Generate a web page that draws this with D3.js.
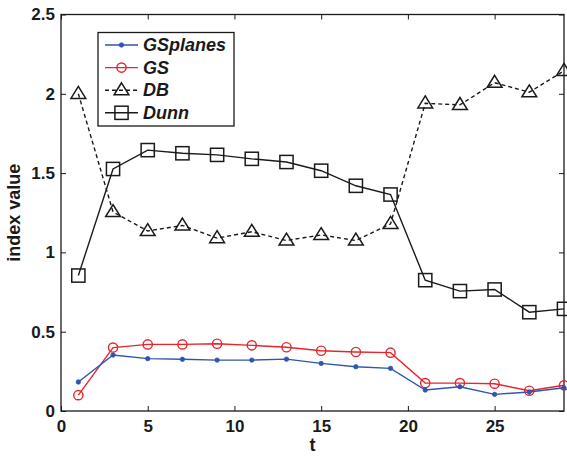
<!DOCTYPE html>
<html>
<head>
<meta charset="utf-8">
<script src="https://cdn.jsdelivr.net/npm/d3@7"></script>
<style>
  html, body { margin: 0; padding: 0; background: #fff; }
  svg { display: block; }
  text { font-family: "Liberation Sans", Arial, Helvetica, sans-serif; font-weight: bold; }
</style>
</head>
<body>
<svg id="chart" width="567" height="456"></svg>
<script>
// Sample positions along t
const tValues = [1, 3, 5, 7, 9, 11, 13, 15, 17, 19, 21, 23, 25, 27, 29];

// Index values per method
const gsplanes = [0.183, 0.353, 0.330, 0.326, 0.321, 0.321, 0.327, 0.300, 0.279, 0.269, 0.132, 0.153, 0.105, 0.120, 0.147];
const gs       = [0.100, 0.400, 0.420, 0.420, 0.424, 0.414, 0.402, 0.380, 0.372, 0.368, 0.176, 0.176, 0.172, 0.128, 0.162];
const db       = [2.000, 1.255, 1.135, 1.170, 1.090, 1.130, 1.075, 1.110, 1.075, 1.180, 1.940, 1.930, 2.070, 2.010, 2.145];
const dunn     = [0.854, 1.526, 1.645, 1.625, 1.615, 1.590, 1.570, 1.515, 1.420, 1.365, 0.825, 0.756, 0.766, 0.623, 0.644];

const xTicks = [0, 5, 10, 15, 20, 25];
const yTicks = [0, 0.5, 1, 1.5, 2, 2.5];

const series = [
  { name: "GSplanes", values: gsplanes, color: "#2f55b0", dash: null, marker: "dot" },
  { name: "GS",       values: gs,       color: "#e8242c", dash: null, marker: "circle" },
  { name: "DB",       values: db,       color: "#1a1a1a", dash: "4,3", marker: "triangle" },
  { name: "Dunn",     values: dunn,     color: "#1a1a1a", dash: null, marker: "square" }
];

const svg = d3.select("#chart");
const plotLeft = 61, plotRight = 564, plotTop = 14.5, plotBottom = 411;

const x = d3.scaleLinear().domain([0, 29]).range([plotLeft, plotRight]);
const y = d3.scaleLinear().domain([0, 2.5]).range([plotBottom, plotTop]);

// Axes with inward-pointing ticks on all four sides
const tickLen = 5;
svg.append("g").attr("transform", `translate(0,${plotBottom})`)
  .call(d3.axisBottom(x).tickValues(xTicks).tickSizeInner(-tickLen).tickSizeOuter(0).tickPadding(9).tickFormat(d3.format("d")))
  .call(g => g.select(".domain").remove())
  .call(g => g.selectAll("text").attr("font-size", 17).attr("fill", "#1a1a1a"));
svg.append("g").attr("transform", `translate(0,${plotTop})`)
  .call(d3.axisTop(x).tickValues(xTicks).tickSizeInner(-tickLen).tickSizeOuter(0).tickFormat(""))
  .call(g => g.select(".domain").remove());
svg.append("g").attr("transform", `translate(${plotLeft},0)`)
  .call(d3.axisLeft(y).tickValues(yTicks).tickSizeInner(-tickLen).tickSizeOuter(0).tickPadding(6).tickFormat(d => String(d)))
  .call(g => g.select(".domain").remove())
  .call(g => g.selectAll("text").attr("font-size", 17).attr("fill", "#1a1a1a"));
svg.append("g").attr("transform", `translate(${plotRight},0)`)
  .call(d3.axisRight(y).tickValues(yTicks).tickSizeInner(-tickLen).tickSizeOuter(0).tickFormat(""))
  .call(g => g.select(".domain").remove());
svg.selectAll(".tick line").attr("stroke", "#1a1a1a").attr("stroke-width", 1);

// Plot frame
svg.append("rect")
  .attr("x", plotLeft).attr("y", plotTop)
  .attr("width", plotRight - plotLeft).attr("height", plotBottom - plotTop)
  .attr("fill", "none").attr("stroke", "#1a1a1a").attr("stroke-width", 1.3);

// Axis titles
svg.append("text").attr("x", (plotLeft + plotRight) / 2).attr("y", 451)
  .attr("text-anchor", "middle").attr("font-size", 18).attr("fill", "#1a1a1a").text("t");
svg.append("text")
  .attr("transform", `translate(19.5,${(plotTop + plotBottom) / 2}) rotate(-90)`)
  .attr("text-anchor", "middle").attr("font-size", 18).attr("fill", "#1a1a1a").text("index value");

// Marker drawing
function drawMarker(g, type, color, cx, cy) {
  if (type === "dot") {
    g.append("circle").attr("cx", cx).attr("cy", cy).attr("r", 2.2).attr("fill", color).attr("stroke", color).attr("stroke-width", 0.8);
  } else if (type === "circle") {
    g.append("circle").attr("cx", cx).attr("cy", cy).attr("r", 4.6).attr("fill", "none").attr("stroke", color).attr("stroke-width", 1.4);
  } else if (type === "triangle") {
    const s = 7.4;
    g.append("path")
      .attr("d", `M${cx},${cy - s} L${cx + s},${cy + s * 0.62} L${cx - s},${cy + s * 0.62} Z`)
      .attr("fill", "none").attr("stroke", color).attr("stroke-width", 1.5);
  } else if (type === "square") {
    const s = 6.6;
    g.append("rect").attr("x", cx - s).attr("y", cy - s).attr("width", 2 * s).attr("height", 2 * s)
      .attr("fill", "none").attr("stroke", color).attr("stroke-width", 1.5);
  }
}

const line = d3.line().x(d => x(d[0])).y(d => y(d[1]));

// Draw back-to-front so the black series sit on top
[...series].reverse().forEach(s => {
  const pts = tValues.map((t, i) => [t, s.values[i]]);
  const g = svg.append("g");
  g.append("path").datum(pts).attr("d", line)
    .attr("fill", "none").attr("stroke", s.color).attr("stroke-width", 1.4)
    .attr("stroke-dasharray", s.dash);
  pts.forEach(p => drawMarker(g, s.marker, s.color, x(p[0]), y(p[1])));
});

// Legend
const lg = svg.append("g");
lg.append("rect").attr("x", 98).attr("y", 32.5).attr("width", 136).attr("height", 93.5)
  .attr("fill", "#fff").attr("stroke", "#1a1a1a").attr("stroke-width", 1.3);
series.forEach((s, i) => {
  const ly = 45 + i * 22.6;
  lg.append("line").attr("x1", 105).attr("x2", 138).attr("y1", ly).attr("y2", ly)
    .attr("stroke", s.color).attr("stroke-width", 1.4).attr("stroke-dasharray", s.dash);
  drawMarker(lg, s.marker, s.color, 121.5, ly);
  lg.append("text").attr("x", 143).attr("y", ly + 6)
    .attr("font-size", 18).attr("font-style", "italic").attr("fill", "#1a1a1a").text(s.name);
});
</script>
</body>
</html>
